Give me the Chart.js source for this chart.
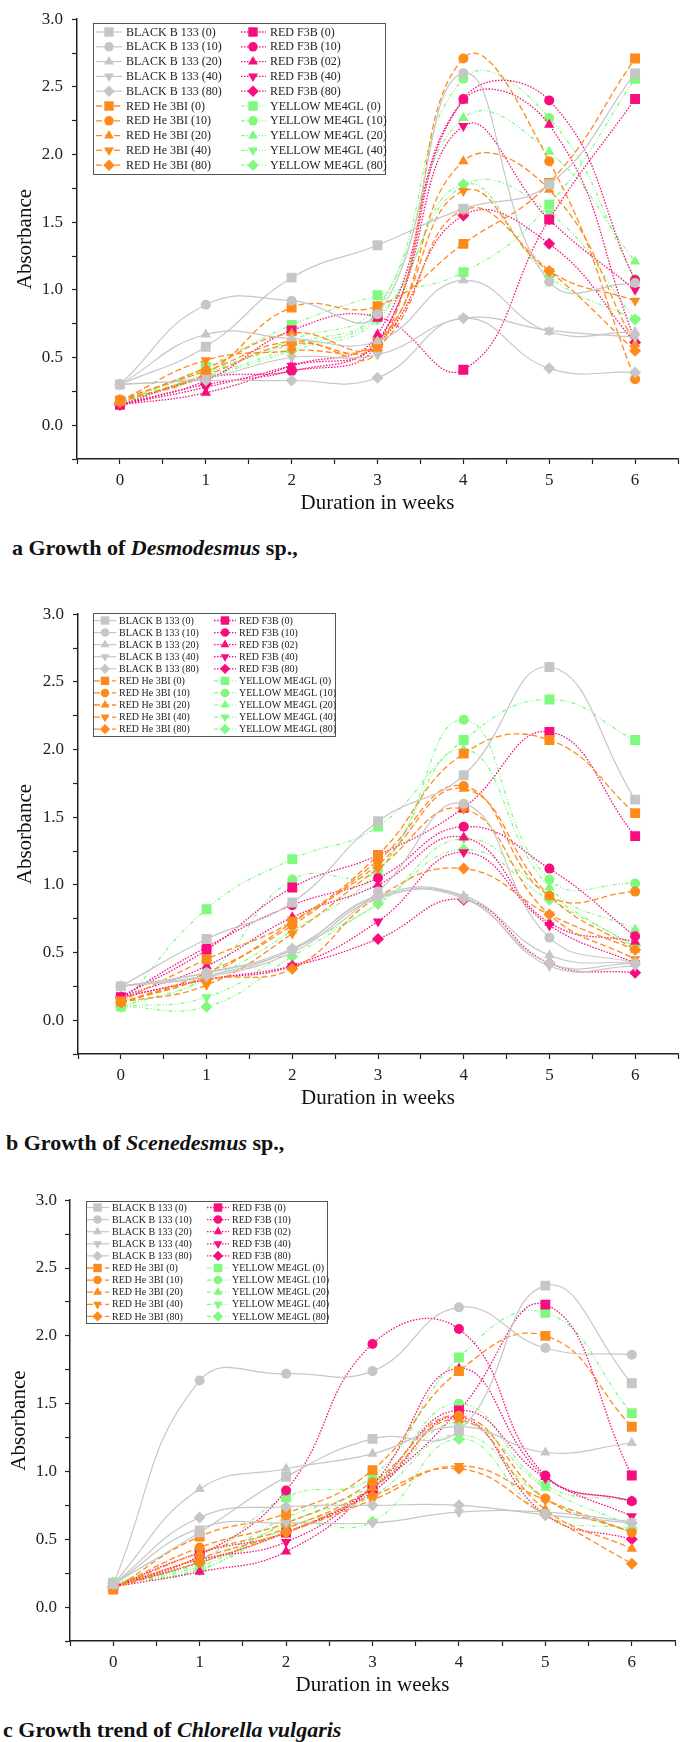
<!DOCTYPE html>
<html>
<head>
<meta charset="utf-8">
<script src="https://cdn.jsdelivr.net/npm/chart.js@4.4.1/dist/chart.umd.min.js"></script>
<style>
  body { margin: 0; background: #fff; }
  #page { position: relative; width: 685px; height: 1742px; font-family: "Liberation Serif", "Times New Roman", serif; }
  .panel { position: absolute; left: 0; width: 685px; height: 520px; }
  .cap { position: absolute; font-weight: bold; font-size: 22px; line-height: 26px; color: #111; white-space: nowrap; }
</style>
</head>
<body>
<div id="page">
  <div class="panel" style="top:0px"><canvas id="chartA" width="685" height="520"></canvas></div>
  <div class="cap" style="left:12px;top:535px">a Growth of <i>Desmodesmus</i> sp.,</div>
  <div class="panel" style="top:595px"><canvas id="chartB" width="685" height="520"></canvas></div>
  <div class="cap" style="left:6px;top:1130px">b Growth of <i>Scenedesmus</i> sp.,</div>
  <div class="panel" style="top:1182px"><canvas id="chartC" width="685" height="520"></canvas></div>
  <div class="cap" style="left:3px;top:1717px">c Growth trend of <i>Chlorella vulgaris</i></div>
</div>
<script>
// weeks on the x axis
const weeks = [0, 1, 2, 3, 4, 5, 6];

// legend labels
const blackLabels = ["BLACK B 133 (0)", "BLACK B 133 (10)", "BLACK B 133 (20)", "BLACK B 133 (40)", "BLACK B 133 (80)"];
const redHeLabels = ["RED He 3BI (0)", "RED He 3BI (10)", "RED He 3BI (20)", "RED He 3BI (40)", "RED He 3BI (80)"];
const redF3BLabels = ["RED F3B (0)", "RED F3B (10)", "RED F3B (02)", "RED F3B (40)", "RED F3B (80)"];
const yellowLabels = ["YELLOW ME4GL (0)", "YELLOW ME4GL (10)", "YELLOW ME4GL (20)", "YELLOW ME4GL (40)", "YELLOW ME4GL (80)"];

// a - Desmodesmus sp.
const desBlack = [
  [0.30, 0.58, 1.09, 1.33, 1.60, 1.78, 2.60],
  [0.30, 0.89, 0.92, 0.82, 2.60, 1.06, 1.05],
  [0.30, 0.67, 0.64, 0.62, 1.07, 0.69, 0.69],
  [0.30, 0.35, 0.50, 0.52, 0.79, 0.70, 0.65],
  [0.30, 0.33, 0.33, 0.35, 0.79, 0.42, 0.39]
];
const desRedHe = [
  [0.18, 0.38, 0.87, 0.88, 1.34, 1.79, 2.71],
  [0.19, 0.40, 0.62, 0.55, 2.71, 1.95, 0.34],
  [0.18, 0.42, 0.68, 0.60, 1.95, 1.74, 0.60],
  [0.18, 0.48, 0.55, 0.62, 1.73, 1.14, 0.92],
  [0.17, 0.37, 0.60, 0.58, 1.59, 1.14, 0.55]
];
const desRedF3B = [
  [0.15, 0.33, 0.70, 0.80, 0.41, 1.52, 2.41],
  [0.15, 0.35, 0.40, 0.60, 2.41, 2.40, 1.07],
  [0.15, 0.24, 0.44, 0.67, 2.40, 2.22, 0.63],
  [0.15, 0.28, 0.44, 0.62, 2.21, 1.52, 1.00],
  [0.15, 0.30, 0.40, 0.60, 1.55, 1.34, 0.61]
];
const desYellow = [
  [0.16, 0.43, 0.74, 0.96, 1.13, 1.63, 2.56],
  [0.17, 0.40, 0.60, 0.85, 2.56, 2.27, 1.08],
  [0.16, 0.38, 0.63, 0.88, 2.27, 2.02, 1.21],
  [0.16, 0.36, 0.57, 0.80, 1.77, 1.57, 0.78],
  [0.16, 0.35, 0.55, 0.78, 1.78, 1.10, 0.78]
];

// b - Scenedesmus sp.
const sceBlack = [
  [0.25, 0.60, 0.87, 1.47, 1.81, 2.61, 1.63],
  [0.25, 0.35, 0.52, 0.95, 1.60, 0.61, 0.42],
  [0.25, 0.33, 0.52, 0.92, 0.92, 0.48, 0.42],
  [0.25, 0.32, 0.50, 0.90, 0.91, 0.40, 0.40],
  [0.25, 0.35, 0.53, 0.91, 0.90, 0.42, 0.42]
];
const sceRedHe = [
  [0.14, 0.45, 0.73, 1.22, 1.97, 2.07, 1.53],
  [0.13, 0.35, 0.70, 1.18, 1.73, 0.92, 0.95],
  [0.13, 0.33, 0.72, 1.15, 1.71, 0.92, 0.52],
  [0.13, 0.26, 0.64, 1.12, 1.56, 0.78, 0.45],
  [0.13, 0.30, 0.38, 0.91, 1.12, 0.78, 0.52]
];
const sceRedF3B = [
  [0.17, 0.52, 0.98, 1.22, 1.57, 2.13, 1.36],
  [0.17, 0.54, 0.85, 1.05, 1.43, 1.12, 0.62],
  [0.17, 0.40, 0.76, 1.00, 1.35, 0.72, 0.58],
  [0.17, 0.30, 0.40, 0.73, 1.24, 0.70, 0.42],
  [0.17, 0.30, 0.40, 0.60, 0.89, 0.42, 0.35]
];
const sceYellow = [
  [0.10, 0.82, 1.19, 1.43, 2.07, 2.37, 2.07],
  [0.10, 0.33, 1.04, 1.11, 2.22, 1.04, 1.01],
  [0.10, 0.30, 0.66, 1.10, 2.00, 0.98, 0.67],
  [0.10, 0.17, 0.52, 0.86, 1.34, 0.92, 0.54],
  [0.10, 0.10, 0.47, 0.86, 1.26, 0.89, 0.55]
];

// c - Chlorella vulgaris
const chlBlack = [
  [0.17, 0.55, 0.96, 1.24, 1.30, 2.37, 1.65],
  [0.17, 1.67, 1.72, 1.74, 2.21, 1.91, 1.86],
  [0.17, 0.87, 1.02, 1.13, 1.33, 1.14, 1.21],
  [0.17, 0.58, 0.62, 0.62, 0.70, 0.70, 0.63],
  [0.17, 0.66, 0.74, 0.75, 0.75, 0.68, 0.62]
];
const chlRedHe = [
  [0.13, 0.52, 0.69, 1.01, 1.74, 2.00, 1.33],
  [0.14, 0.44, 0.62, 0.92, 1.41, 0.80, 0.55],
  [0.14, 0.40, 0.58, 0.88, 1.38, 0.72, 0.43],
  [0.14, 0.36, 0.55, 0.79, 1.04, 0.79, 0.55],
  [0.14, 0.33, 0.55, 0.82, 1.02, 0.68, 0.32]
];
const chlRedF3B = [
  [0.15, 0.40, 0.55, 0.88, 1.45, 2.23, 0.97],
  [0.15, 0.38, 0.86, 1.94, 2.05, 0.97, 0.78],
  [0.15, 0.26, 0.41, 0.90, 1.76, 0.96, 0.78],
  [0.15, 0.35, 0.48, 0.88, 1.45, 0.95, 0.67],
  [0.15, 0.33, 0.55, 0.85, 1.40, 0.68, 0.50]
];
const chlYellow = [
  [0.18, 0.34, 0.81, 0.96, 1.84, 2.17, 1.43],
  [0.18, 0.32, 0.66, 0.90, 1.50, 0.90, 0.78],
  [0.18, 0.30, 0.62, 0.86, 1.36, 0.88, 0.60],
  [0.18, 0.28, 0.58, 0.82, 1.27, 0.80, 0.55],
  [0.18, 0.27, 0.60, 0.63, 1.24, 0.68, 0.58]
];

// line look of each dye group
const groupStyles = [
  { color: "#c6c6c6", dash: [], width: 1.2 },
  { color: "#ff8a1c", dash: [6, 3], width: 1.3 },
  { color: "#f80c7e", dash: [1.5, 1.5], width: 1.3 },
  { color: "#7ffa7f", dash: [4, 2, 1, 2, 1, 2], width: 1.2 }
];
// marker for each concentration
const markers = [
  { style: "rect", radius: 7, rotation: 0 },
  { style: "circle", radius: 5, rotation: 0 },
  { style: "triangle", radius: 6, rotation: 0 },
  { style: "triangle", radius: 6, rotation: 180 },
  { style: "rectRot", radius: 6, rotation: 0 }
];

function buildDatasets(groups) {
  const labels = [blackLabels, redHeLabels, redF3BLabels, yellowLabels];
  const sets = [];
  groups.forEach((group, g) => {
    const st = groupStyles[g];
    group.forEach((vals, k) => {
      const m = markers[k];
      sets.push({
        label: labels[g][k],
        data: weeks.map((w, i) => ({ x: w, y: vals[i] })),
        borderColor: st.color,
        backgroundColor: st.color,
        pointBackgroundColor: st.color,
        pointBorderColor: st.color,
        borderWidth: st.width,
        borderDash: st.dash,
        pointStyle: m.style,
        pointRadius: m.radius,
        pointRotation: m.rotation,
        pointBorderWidth: 0,
        tension: 0.45,
        fill: false
      });
    });
  });
  return sets;
}

// legend drawn as a framed two-column box inside the plot
const boxLegend = {
  id: "boxLegend",
  afterDatasetsDraw(chart, args, opts) {
    const ctx = chart.ctx;
    ctx.save();
    ctx.fillStyle = "#fff";
    ctx.fillRect(opts.x, opts.y, opts.w, opts.h);
    ctx.strokeStyle = "#555";
    ctx.lineWidth = 1;
    ctx.strokeRect(opts.x + 0.5, opts.y + 0.5, opts.w, opts.h);
    ctx.font = opts.font + 'px "Liberation Serif", serif';
    ctx.textBaseline = "middle";
    chart.data.datasets.forEach((ds, i) => {
      const col = opts.cols[Math.floor(i / 10)];
      const y = opts.firstRow + (i % 10) * opts.rowH;
      ctx.strokeStyle = ds.borderColor;
      ctx.lineWidth = ds.borderWidth;
      ctx.setLineDash(ds.borderDash);
      ctx.beginPath();
      ctx.moveTo(col.l0, y);
      ctx.lineTo(col.l1, y);
      ctx.stroke();
      ctx.setLineDash([]);
      ctx.fillStyle = ds.pointBackgroundColor;
      Chart.helpers.drawPoint(ctx, {
        pointStyle: ds.pointStyle,
        rotation: ds.pointRotation,
        radius: ds.pointRadius * opts.markerScale,
        borderWidth: 0
      }, col.m, y);
      ctx.fillStyle = "#222";
      ctx.fillText(ds.label, col.t, y + 0.5);
    });
    ctx.restore();
  }
};

function makeChart(id, groups, cfg) {
  return new Chart(document.getElementById(id), {
    type: "line",
    data: { datasets: buildDatasets(groups) },
    plugins: [boxLegend],
    options: {
      responsive: false,
      animation: false,
      layout: { padding: { top: 11, right: cfg.right, left: 0, bottom: 0 } },
      plugins: {
        legend: { display: false },
        tooltip: { enabled: false },
        boxLegend: cfg.legend
      },
      scales: {
        x: {
          type: "linear",
          min: -0.5,
          max: 6.5,
          afterFit: (s) => { s.height = 61; },
          border: { color: "#222", width: 1.5 },
          grid: { drawOnChartArea: false, tickLength: 5, tickColor: "#222", tickWidth: 1.2 },
          ticks: {
            stepSize: 0.5,
            autoSkip: false,
            maxRotation: 0,
            padding: 6,
            color: "#222",
            font: { family: "Liberation Serif", size: 17 },
            callback: (v) => (Number.isInteger(v) && v >= 0 && v <= 6 ? String(v) : "")
          },
          title: {
            display: true,
            text: "Duration in weeks",
            color: "#111",
            padding: { top: 0, bottom: 4 },
            font: { family: "Liberation Serif", size: 21 }
          }
        },
        y: {
          min: -0.25,
          max: 3.0,
          afterFit: (s) => { s.width = cfg.left; },
          border: { color: "#222", width: 1.5 },
          grid: { drawOnChartArea: false, tickLength: 5, tickColor: "#222", tickWidth: 1.2 },
          ticks: {
            stepSize: 0.25,
            autoSkip: false,
            padding: cfg.tickPad,
            color: "#222",
            font: { family: "Liberation Serif", size: 17 },
            callback: (v) => (v >= 0 && Math.abs(v * 2 - Math.round(v * 2)) < 1e-6 ? v.toFixed(1) : "")
          },
          title: {
            display: true,
            text: "Absorbance",
            color: "#111",
            padding: { top: cfg.titlePad, bottom: 0 },
            font: { family: "Liberation Serif", size: 21 }
          }
        }
      }
    }
  });
}

makeChart("chartA", [desBlack, desRedHe, desRedF3B, desYellow], {
  left: 77, right: 6, tickPad: 9, titlePad: 13,
  legend: {
    x: 93, y: 23, w: 292, h: 151, font: 12, firstRow: 32, rowH: 14.8, markerScale: 0.95,
    cols: [{ l0: 96, l1: 122, m: 109, t: 126 }, { l0: 241, l1: 266, m: 253, t: 270 }]
  }
});
makeChart("chartB", [sceBlack, sceRedHe, sceRedF3B, sceYellow], {
  left: 78, right: 4, tickPad: 9, titlePad: 13,
  legend: {
    x: 93, y: 18, w: 242, h: 123, font: 10, firstRow: 25.5, rowH: 12.07, markerScale: 0.85,
    cols: [{ l0: 94, l1: 116, m: 105, t: 119 }, { l0: 214, l1: 236, m: 225, t: 239 }]
  }
});
makeChart("chartC", [chlBlack, chlRedHe, chlRedF3B, chlYellow], {
  left: 70, right: 10, tickPad: 8, titlePad: 7,
  legend: {
    x: 86, y: 19, w: 241, h: 122, font: 10, firstRow: 25.5, rowH: 12.1, markerScale: 0.85,
    cols: [{ l0: 87, l1: 109, m: 97.5, t: 112 }, { l0: 207, l1: 229, m: 218, t: 232 }]
  }
});
</script>
</body>
</html>
